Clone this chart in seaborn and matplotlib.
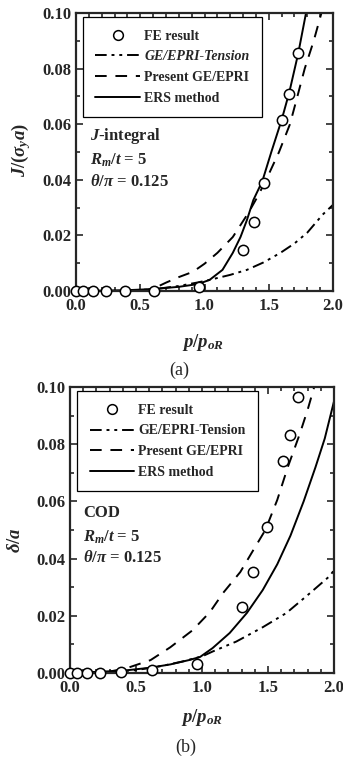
import matplotlib
matplotlib.use("Agg")
import matplotlib.pyplot as plt
from matplotlib.lines import Line2D
from matplotlib.ticker import MultipleLocator
import seaborn as sns
import pandas as pd

# ---------------- data ----------------
# Panel (a): J-integral
fe_a_x = [0.0, 0.055, 0.13, 0.235, 0.38, 0.61, 0.96, 1.30, 1.385, 1.465, 1.60, 1.655, 1.73]
fe_a_y = [0.0, 0.0, 0.0, 0.0, 0.0, 0.0, 0.0014, 0.0147, 0.0248, 0.0388, 0.0615, 0.0709, 0.0856]

tens_a_x = [0.4, 0.6, 0.8, 0.95, 1.04, 1.2, 1.33, 1.46, 1.59, 1.70, 1.80, 1.92, 2.0]
tens_a_y = [0.0002, 0.0006, 0.0018, 0.0031, 0.004, 0.0058, 0.0076, 0.0103, 0.0137, 0.0171, 0.021, 0.0275, 0.031]

pres_a_x = [0.5, 0.6, 0.7, 0.75, 0.8, 0.91, 1.0, 1.10, 1.22, 1.34, 1.42, 1.50, 1.58, 1.665, 1.72, 1.78, 1.85, 1.91]
pres_a_y = [0.0, 0.0008, 0.003, 0.004, 0.005, 0.0069, 0.0098, 0.0137, 0.0194, 0.028, 0.0345, 0.042, 0.050, 0.060, 0.0695, 0.080, 0.090, 0.10]

ers_a_x = [0.0, 0.4, 0.6, 0.8, 0.95, 1.04, 1.14, 1.22, 1.28, 1.33, 1.38, 1.45, 1.52, 1.60, 1.66, 1.73, 1.79]
ers_a_y = [0.0, 0.0003, 0.0007, 0.0015, 0.0025, 0.004, 0.0076, 0.0137, 0.0194, 0.0255, 0.0327, 0.0395, 0.050, 0.0615, 0.0715, 0.0856, 0.10]

# Panel (b): COD
fe_b_x = [0.0, 0.055, 0.13, 0.23, 0.39, 0.62, 0.96, 1.30, 1.39, 1.49, 1.617, 1.667, 1.727]
fe_b_y = [0.0, 0.0, 0.0, 0.0, 0.0005, 0.001, 0.0031, 0.0231, 0.0353, 0.051, 0.0741, 0.0832, 0.0965]

tens_b_x = [0.3, 0.5, 0.7, 0.85, 1.0, 1.08, 1.26, 1.46, 1.64, 1.82, 1.97, 2.0]
tens_b_y = [0.0003, 0.001, 0.0025, 0.004, 0.0058, 0.0075, 0.011, 0.016, 0.021, 0.028, 0.034, 0.036]

pres_b_x = [0.3, 0.43, 0.61, 0.76, 0.93, 1.06, 1.16, 1.29, 1.38, 1.48, 1.57, 1.65, 1.74, 1.80, 1.85]
pres_b_y = [0.0005, 0.0017, 0.0045, 0.009, 0.015, 0.0213, 0.028, 0.0353, 0.0423, 0.050, 0.0605, 0.072, 0.0835, 0.092, 0.10]

ers_b_x = [0.0, 0.4, 0.6, 0.76, 0.9, 0.985, 1.08, 1.21, 1.34, 1.46, 1.57, 1.67, 1.77, 1.86, 1.93, 2.0]
ers_b_y = [0.0, 0.0008, 0.0018, 0.003, 0.0045, 0.0056, 0.0087, 0.014, 0.021, 0.029, 0.038, 0.048, 0.060, 0.072, 0.082, 0.095]

legend_labels = ["FE result", "GE/EPRI-Tension", "Present GE/EPRI", "ERS method"]
x_ticks = [0.0, 0.5, 1.0, 1.5, 2.0]
y_ticks = [0.00, 0.02, 0.04, 0.06, 0.08, 0.10]

# ---------------- style ----------------
sns.set_style("ticks")
plt.rcParams["font.family"] = ["Liberation Serif", "DejaVu Serif"]
plt.rcParams["font.weight"] = "bold"
plt.rcParams["mathtext.fontset"] = "custom"
plt.rcParams["mathtext.rm"] = "Liberation Serif:bold"
plt.rcParams["mathtext.it"] = "Liberation Serif:italic:bold"
plt.rcParams["mathtext.bf"] = "Liberation Serif:bold"

DASHDOT = (0, (6, 2.5, 1.5, 2.5, 1.5, 2.5))
DASHED = (0, (6, 4.5))
LW = 1.4

fig = plt.figure(figsize=(3.43, 7.67), dpi=100)
ax_a = fig.add_axes([76 / 343, 1 - 291 / 767, 257 / 343, 278 / 767])
ax_b = fig.add_axes([70 / 343, 1 - 673 / 767, 264 / 343, 286 / 767])


def draw(ax, fe_x, fe_y, t_x, t_y, p_x, p_y, e_x, e_y):
    sns.lineplot(data=pd.DataFrame({"x": t_x, "y": t_y}), x="x", y="y", ax=ax,
                 color="black", lw=LW, linestyle=DASHDOT, sort=False, estimator=None)
    sns.lineplot(data=pd.DataFrame({"x": p_x, "y": p_y}), x="x", y="y", ax=ax,
                 color="black", lw=LW, linestyle=DASHED, sort=False, estimator=None)
    sns.lineplot(data=pd.DataFrame({"x": e_x, "y": e_y}), x="x", y="y", ax=ax,
                 color="black", lw=LW, linestyle="-", sort=False, estimator=None)
    sns.scatterplot(data=pd.DataFrame({"x": fe_x, "y": fe_y}), x="x", y="y", ax=ax,
                    marker="o", s=55, facecolor="white", edgecolor="black",
                    linewidth=1.1, zorder=5, clip_on=False)
    ax.set_xlim(0, 2.0)
    ax.set_ylim(0, 0.10)
    ax.set_xticks(x_ticks)
    ax.set_xticklabels([f"{v:.1f}" for v in x_ticks])
    ax.set_yticks(y_ticks)
    ax.set_yticklabels([f"{v:.2f}" for v in y_ticks])
    ax.xaxis.set_minor_locator(MultipleLocator(0.1))
    ax.yaxis.set_minor_locator(MultipleLocator(0.01))
    ax.tick_params(which="both", direction="in", top=True, right=True,
                   labelsize=12, width=1.2)
    ax.tick_params(which="major", length=5)
    ax.tick_params(axis="x", which="major", pad=5)
    ax.tick_params(axis="y", which="major", pad=3.5)
    ax.tick_params(which="minor", length=3)
    for lab in ax.get_xticklabels() + ax.get_yticklabels():
        lab.set_fontweight("bold")
    for sp in ax.spines.values():
        sp.set_linewidth(1.6)
        sp.set_visible(True)
    ax.set_xlabel("")
    ax.set_ylabel("")


def add_legend(ax, italic_tension):
    handles = [
        Line2D([], [], marker="o", ls="none", markersize=7, markerfacecolor="white",
               markeredgecolor="black", markeredgewidth=1.1),
        Line2D([], [], color="black", lw=LW, linestyle=DASHDOT),
        Line2D([], [], color="black", lw=LW, linestyle=DASHED),
        Line2D([], [], color="black", lw=LW, linestyle="-"),
    ]
    leg = ax.legend(handles, legend_labels, loc="upper left",
                    bbox_to_anchor=(0.027, 0.985), borderaxespad=0,
                    frameon=True, fancybox=False, edgecolor="black",
                    framealpha=1, handlelength=3.2, handletextpad=0.3,
                    borderpad=0.9, labelspacing=0.55,
                    prop={"family": "Liberation Serif", "weight": "bold", "size": 10})
    leg.get_frame().set_linewidth(0.9)
    if italic_tension:
        leg.get_texts()[1].set_fontstyle("italic")
    return leg


draw(ax_a, fe_a_x, fe_a_y, tens_a_x, tens_a_y, pres_a_x, pres_a_y, ers_a_x, ers_a_y)
draw(ax_b, fe_b_x, fe_b_y, tens_b_x, tens_b_y, pres_b_x, pres_b_y, ers_b_x, ers_b_y)
add_legend(ax_a, True)
add_legend(ax_b, False)

# annotations panel (a)
ax_a.text(0.054, 0.558, r"$J$-integral", transform=ax_a.transAxes, fontsize=12,
          fontweight="bold", va="center", ha="left")
ax_a.text(0.054, 0.471, r"$R_m/t$ = 5", transform=ax_a.transAxes, fontsize=12,
          fontweight="bold", va="center", ha="left")
ax_a.text(0.054, 0.392, r"$\theta/\pi$ = 0.125", transform=ax_a.transAxes, fontsize=12,
          fontweight="bold", va="center", ha="left")
# annotations panel (b)
ax_b.text(0.05, 0.559, "COD", transform=ax_b.transAxes, fontsize=12,
          fontweight="bold", va="center", ha="left")
ax_b.text(0.05, 0.476, r"$R_m/t$ = 5", transform=ax_b.transAxes, fontsize=12,
          fontweight="bold", va="center", ha="left")
ax_b.text(0.05, 0.402, r"$\theta/\pi$ = 0.125", transform=ax_b.transAxes, fontsize=12,
          fontweight="bold", va="center", ha="left")

# axis labels
ax_a.text(-0.214, 0.507, r"$J/(\sigma_y a)$", transform=ax_a.transAxes, fontsize=13.5,
          rotation=90, va="center", ha="center")
ax_b.text(-0.205, 0.465, r"$\delta/a$", transform=ax_b.transAxes, fontsize=13.5,
          rotation=90, va="center", ha="center")
ax_a.text(0.494, -0.187, r"$p/p_{oR}$", transform=ax_a.transAxes, fontsize=13.5,
          va="center", ha="center")
ax_b.text(0.50, -0.154, r"$p/p_{oR}$", transform=ax_b.transAxes, fontsize=13.5,
          va="center", ha="center")
ax_a.text(0.40, -0.284, "(a)", transform=ax_a.transAxes, fontsize=13,
          fontweight="normal", va="center", ha="center")
ax_b.text(0.44, -0.259, "(b)", transform=ax_b.transAxes, fontsize=13,
          fontweight="normal", va="center", ha="center")

fig.savefig("out.png", dpi=100)
